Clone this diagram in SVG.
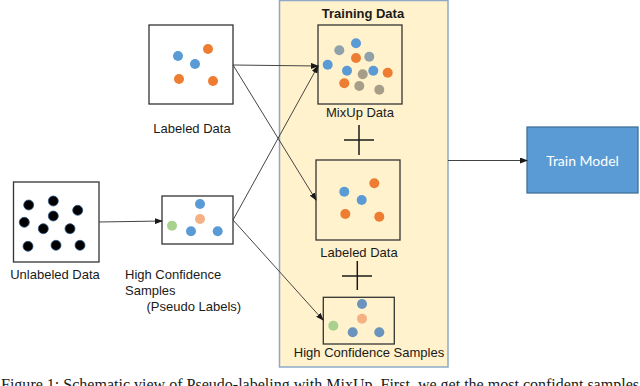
<svg xmlns="http://www.w3.org/2000/svg" width="640" height="386" viewBox="0 0 640 386">
<defs>
<marker id="ah" markerWidth="8" markerHeight="6" refX="7" refY="3" orient="auto" markerUnits="userSpaceOnUse">
<path d="M0,0 L8,3 L0,6 Z" fill="#1a1a1a"/>
</marker>
<style>
.box{fill:none;stroke:#333;stroke-width:1.3}
.lbl{font-family:"Liberation Sans",Arial,sans-serif;font-size:13px;fill:#1a1a1a}
.conn{stroke:#444;stroke-width:1;fill:none;marker-end:url(#ah)}
.b{fill:#5B9BD5}.o{fill:#ED7D31}.g{fill:#8FA2AC}.t{fill:#A79E8A}
.pe{fill:#F4B183}.gr{fill:#A9D18E}.sb{fill:#6A93BE}
.k{fill:#000;stroke:#2E5A8A;stroke-width:0.8}
.plus{stroke:#1a1a1a;stroke-width:1.5}
</style>
</defs>
<rect width="640" height="386" fill="#fff"/>

<g id="training-panel">
<rect x="279.5" y="0.5" width="168.5" height="366.5" fill="#FFF2CC" stroke="#8EA9C8" stroke-width="1.5"/>
<text x="363" y="18" text-anchor="middle" font-family="'Liberation Sans',Arial,sans-serif" font-size="13" font-weight="bold" fill="#1a1a1a">Training Data</text>
</g>

<g id="labeled-data">
<rect class="box" x="149" y="25" width="84" height="79"/>
<circle class="b" cx="178" cy="56" r="5"/>
<circle class="b" cx="195" cy="64" r="5"/>
<circle class="o" cx="208" cy="49" r="5"/>
<circle class="o" cx="179" cy="79" r="5"/>
<circle class="o" cx="213" cy="81" r="5"/>
<text class="lbl" x="192" y="133" text-anchor="middle">Labeled Data</text>
</g>

<g id="unlabeled-data">
<rect class="box" x="13.5" y="182" width="85.5" height="80"/>
<circle class="k" cx="28.7" cy="205" r="5"/>
<circle class="k" cx="53.3" cy="201" r="5"/>
<circle class="k" cx="77.7" cy="210.3" r="5"/>
<circle class="k" cx="53.3" cy="216" r="5"/>
<circle class="k" cx="24.3" cy="222.3" r="5"/>
<circle class="k" cx="43.3" cy="228.7" r="5"/>
<circle class="k" cx="70" cy="228.7" r="5"/>
<circle class="k" cx="28" cy="246.3" r="5"/>
<circle class="k" cx="56" cy="245.3" r="5"/>
<circle class="k" cx="80" cy="245.3" r="5"/>
<text class="lbl" x="55" y="279" text-anchor="middle">Unlabeled Data</text>
</g>

<g id="high-confidence">
<rect class="box" x="162" y="196" width="71" height="48"/>
<circle class="b" cx="200" cy="204" r="5"/>
<circle class="pe" cx="200" cy="219" r="5"/>
<circle class="gr" cx="172" cy="225.7" r="5"/>
<circle class="b" cx="191" cy="231.3" r="5"/>
<circle class="b" cx="217.7" cy="231.3" r="5"/>
<text class="lbl" x="125" y="279">High Confidence</text>
<text class="lbl" x="125" y="295">Samples</text>
<text class="lbl" x="146.5" y="311">(Pseudo Labels)</text>
</g>

<g id="mixup-data">
<rect class="box" x="318" y="25" width="84" height="79"/>
<circle class="b" cx="356" cy="43.3" r="5"/>
<circle class="g" cx="339.3" cy="50.3" r="5"/>
<circle class="o" cx="356" cy="58" r="5"/>
<circle class="g" cx="369.3" cy="56.7" r="5"/>
<circle class="b" cx="327.7" cy="64.7" r="5"/>
<circle class="b" cx="347" cy="70.7" r="5"/>
<circle class="t" cx="362.7" cy="74.3" r="5"/>
<circle class="b" cx="373.3" cy="70.7" r="5"/>
<circle class="o" cx="387.7" cy="72.7" r="5"/>
<circle class="o" cx="344.3" cy="83.3" r="5"/>
<circle class="t" cx="359.3" cy="86" r="5"/>
<circle class="t" cx="379.3" cy="89.7" r="5"/>
<text class="lbl" x="360" y="117" text-anchor="middle">MixUp Data</text>
</g>

<g id="plus-1">
<line class="plus" x1="359" y1="125" x2="359" y2="155"/>
<line class="plus" x1="344" y1="140" x2="374" y2="140"/>
</g>

<g id="labeled-data-2">
<rect class="box" x="316" y="160" width="84" height="80"/>
<circle class="b" cx="344.3" cy="191.7" r="5"/>
<circle class="b" cx="361.7" cy="200" r="5"/>
<circle class="o" cx="374.3" cy="183.3" r="5"/>
<circle class="o" cx="345.3" cy="214" r="5"/>
<circle class="o" cx="379.3" cy="216.7" r="5"/>
<text class="lbl" x="359" y="257" text-anchor="middle">Labeled Data</text>
</g>

<g id="plus-2">
<line class="plus" x1="357.3" y1="261" x2="357.3" y2="290"/>
<line class="plus" x1="342" y1="276" x2="372" y2="276"/>
</g>

<g id="high-confidence-2">
<rect class="box" x="323.3" y="297.3" width="71" height="46.7"/>
<circle class="sb" cx="362" cy="304" r="5"/>
<circle class="pe" cx="362" cy="318.7" r="5"/>
<circle class="gr" cx="333.3" cy="325.7" r="5"/>
<circle class="sb" cx="352.7" cy="332.3" r="5"/>
<circle class="sb" cx="379.3" cy="332.3" r="5"/>
<text class="lbl" x="369" y="357" text-anchor="middle">High Confidence Samples</text>
</g>

<g id="train-model">
<rect x="527" y="127" width="111" height="66" fill="#5B9BD5" stroke="#41719C" stroke-width="1.3"/>
<text x="582.5" y="165.5" text-anchor="middle" font-family="Lato,'Open Sans',sans-serif" font-size="14" fill="#fff">Train Model</text>
</g>

<g id="connectors">
<path class="conn" d="M233,65 L318,66"/>
<path class="conn" d="M233,65 L316,200"/>
<path class="conn" d="M233,220 L318,66"/>
<path class="conn" d="M233,220 L323,320"/>
<path class="conn" d="M99,222 L162,221"/>
<path class="conn" d="M448,160.5 L527,160.5"/>
</g>

<text x="1" y="390" font-family="'Liberation Serif','Times New Roman',serif" font-size="16.5" textLength="638" lengthAdjust="spacingAndGlyphs" fill="#1a1a1a">Figure 1: Schematic view of Pseudo-labeling with MixUp. First, we get the most confident samples</text>
</svg>
